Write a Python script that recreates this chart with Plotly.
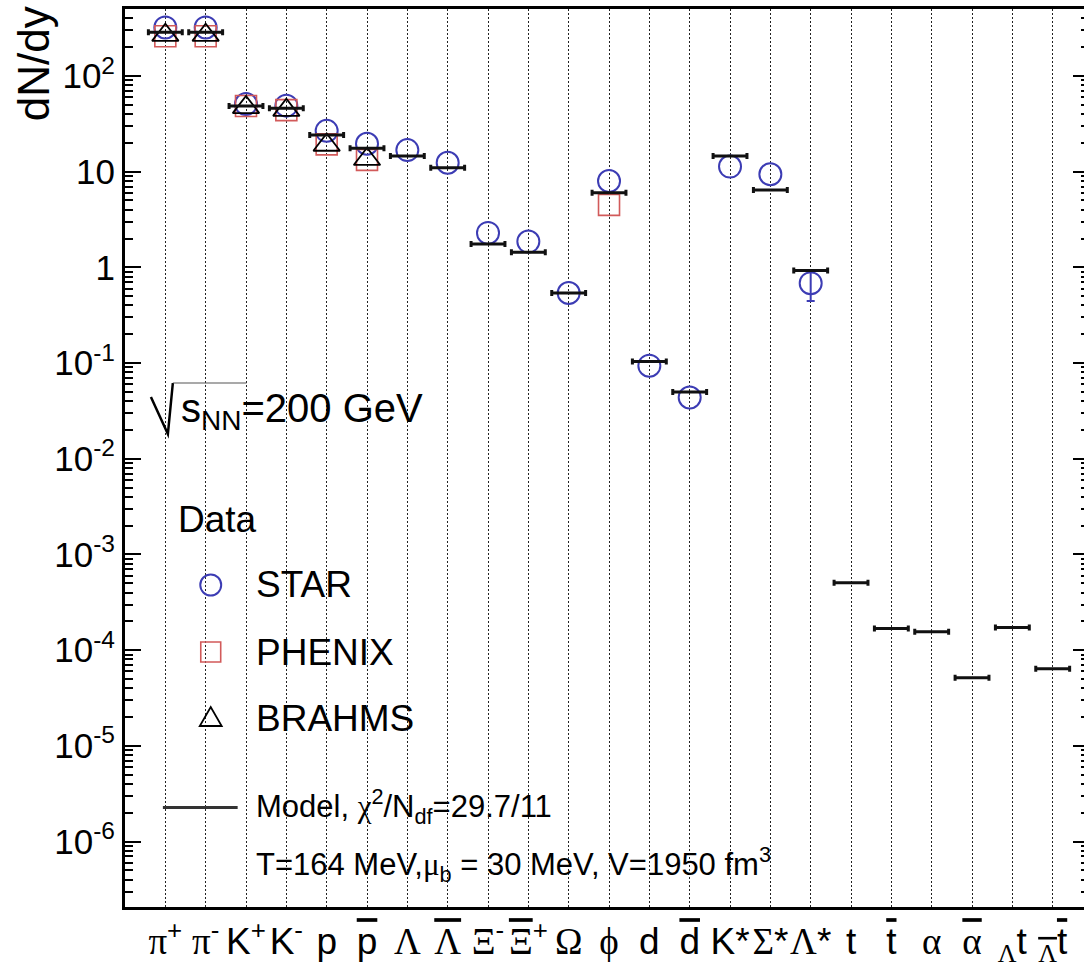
import plotly.graph_objects as go

# ---- particle species (x categories) ----
species = ["pi+", "pi-", "K+", "K-", "p", "pbar", "Lambda", "Lambdabar",
           "Xi-", "Xibar+", "Omega", "phi", "d", "dbar", "K*", "Sigma*",
           "Lambda*", "t", "tbar", "alpha", "alphabar", "hyp_t", "antihyp_t"]

SANS = "Liberation Sans"
SERIF = "Liberation Serif"


def gr(s, bar=False):
    deco = ";text-decoration:overline" if bar else ""
    return f'<span style="font-family:{SERIF}{deco}">{s}</span>'


def ov(s):
    return f'<span style="text-decoration:overline">{s}</span>'


tick_labels = [
    gr("π") + "<sup>+</sup>", gr("π") + "<sup>-</sup>",
    "K<sup>+</sup>", "K<sup>-</sup>",
    "p", ov("p"),
    gr("Λ"), gr("Λ", True),
    gr("Ξ") + "<sup>-</sup>", gr("Ξ", True) + "<sup>+</sup>",
    gr("Ω"), gr("ϕ"),
    "d", ov("d"),
    "K*", gr("Σ") + "*", gr("Λ") + "*",
    "t", ov("t"),
    gr("α"), gr("α", True),
    "<sub>" + gr("Λ") + "</sub>t", "<sub>" + gr("Λ", True) + "</sub>" + ov("t"),
]

# ---- thermal model yields (dN/dy) ----
model_yield = [286, 286, 48.7, 46.0, 24.2, 17.6, 14.6, 11.0,
               1.75, 1.44, 0.54, 6.04, 0.104, 0.050, 14.6, 6.45,
               0.93, 5.07e-4, 1.68e-4, 1.56e-4, 5.16e-5, 1.72e-4, 6.4e-5]

# ---- STAR ----
star_species = species[:17]
star_yield = [322, 322, 51, 49, 26.7, 19.6, 16.8, 12.4,
              2.29, 1.86, 0.54, 8.0, 0.094, 0.0437, 11.3, 9.4, 0.684]
# uncertainties large enough to show beyond the marker
star_err_species = ["Lambda*"]
star_err = [0.24]

# ---- PHENIX ----
phenix_species = ["pi+", "pi-", "K+", "K-", "p", "pbar", "phi"]
phenix_yield = [260, 260, 48.5, 44, 19.3, 13.3, 4.5]

# ---- BRAHMS ----
brahms_species = ["pi+", "pi-", "K+", "K-", "p", "pbar"]
brahms_yield = [267, 267, 47, 44, 19.0, 13.5]

STAR_BLUE = "#3c3cb4"
PHENIX_RED = "#d25a5a"

pos = {s: i for i, s in enumerate(species)}
star_lookup = dict(zip(star_species, star_yield))

W, H = 1094, 973
ML, MR, MT, MB = 125, 2, 9, 66
PW, PH = W - ML - MR, H - MT - MB


def px(x):
    return (x - ML) / PW


def py(y):
    return (H - MB - y) / PH


fig = go.Figure()

# STAR error bars (drawn under the markers)
fig.add_trace(go.Scatter(
    x=[pos[s] for s in star_err_species], y=[star_lookup[s] for s in star_err_species],
    mode="markers", marker=dict(size=2, color=STAR_BLUE, opacity=0), hoverinfo="skip",
    error_y=dict(type="data", array=star_err, color=STAR_BLUE, thickness=2, width=4),
))
fig.add_trace(go.Scatter(
    x=[pos[s] for s in star_species], y=star_yield, mode="markers", name="STAR",
    marker=dict(symbol="circle-open", size=22, color=STAR_BLUE, line=dict(width=2)),
))
fig.add_trace(go.Scatter(
    x=[pos[s] for s in phenix_species], y=phenix_yield, mode="markers", name="PHENIX",
    marker=dict(symbol="square-open", size=21, color=PHENIX_RED, line=dict(width=1.6)),
))
fig.add_trace(go.Scatter(
    x=[pos[s] for s in brahms_species], y=brahms_yield, mode="markers", name="BRAHMS",
    marker=dict(symbol="triangle-up-open", size=23, color="black", line=dict(width=1.8)),
))
fig.add_trace(go.Scatter(
    x=list(range(len(species))), y=model_yield, mode="markers", name="Model",
    marker=dict(size=2, color="black", opacity=0),
    error_x=dict(type="constant", value=0.42, color="#111111", thickness=3, width=3),
))

# y axis decades and minor ticks
decades = list(range(-6, 3))
major_vals = [10.0 ** d for d in decades]
major_text = ["1" if d == 0 else ("10" if d == 1 else "10<sup>%d</sup>" % d) for d in decades]
minor_vals = [m * 10.0 ** d for d in range(-7, 3) for m in range(2, 10)]

fig.update_layout(
    width=W, height=H,
    margin=dict(l=ML, r=MR, t=MT, b=MB),
    paper_bgcolor="white", plot_bgcolor="white",
    showlegend=False,
    font=dict(family=SANS, color="black"),
    xaxis=dict(
        range=[-1.0, 22.9], tickmode="array",
        tickvals=list(range(len(species))), ticktext=tick_labels,
        tickfont=dict(family=SANS, size=37, color="black"), tickangle=0,
        ticks="", showgrid=True, gridcolor="#222222", gridwidth=1.3,
        griddash="1.5px,2.5px", zeroline=False,
        showline=True, linewidth=2.5, linecolor="black", mirror=True,
    ),
    yaxis=dict(
        type="log", range=[-6.684, 2.70],
        tickmode="array", tickvals=major_vals, ticktext=major_text,
        tickfont=dict(family=SANS, size=35, color="black"),
        ticks="inside", ticklen=16, tickwidth=2, tickcolor="black",
        minor=dict(ticks="inside", ticklen=8, tickwidth=1.5, tickcolor="black",
                   tickmode="array", tickvals=minor_vals, showgrid=False),
        showgrid=False, zeroline=False,
        showline=True, linewidth=3, linecolor="black", mirror="ticks",
    ),
)

ann = []
# axis title placed at the top of the y axis
ann.append(dict(text="dN/dy", textangle=-90, xref="paper", yref="paper",
                x=px(33), y=py(64), xanchor="center", yanchor="middle",
                showarrow=False, font=dict(size=44, family=SANS)))
# collision energy
ann.append(dict(text="s<sub>NN</sub>=200 GeV", xref="paper", yref="paper",
                x=px(179), y=py(411), xanchor="left", yanchor="middle",
                showarrow=False, font=dict(size=40, family=SANS)))
# legend texts
ann.append(dict(text="Data", xref="paper", yref="paper", x=px(176), y=py(519),
                xanchor="left", yanchor="middle", showarrow=False, font=dict(size=37)))
for label, yc in [("STAR", 584), ("PHENIX", 652), ("BRAHMS", 718)]:
    ann.append(dict(text=label, xref="paper", yref="paper", x=px(254), y=py(yc),
                    xanchor="left", yanchor="middle", showarrow=False, font=dict(size=37)))
ann.append(dict(text="Model, " + f'<span style="font-family:{SERIF}">χ</span>' +
                "<sup>2</sup>/N<sub>df</sub>=29.7/11",
                xref="paper", yref="paper", x=px(254), y=py(806),
                xanchor="left", yanchor="middle", showarrow=False, font=dict(size=31)))
ann.append(dict(text="T=164 MeV," + f'<span style="font-family:{SERIF}">μ</span>' +
                "<sub>b</sub> = 30 MeV, V=1950 fm<sup>3</sup>",
                xref="paper", yref="paper", x=px(254), y=py(864),
                xanchor="left", yanchor="middle", showarrow=False, font=dict(size=31)))
fig.update_layout(annotations=ann)

shapes = []
# radical sign and its bar
shapes.append(dict(type="path", xref="paper", yref="paper",
                   path=f"M{px(151)},{py(397)} L{px(168)},{py(434)} L{px(173)},{py(383)}",
                   line=dict(color="black", width=2.5)))
shapes.append(dict(type="line", xref="paper", yref="paper",
                   x0=px(173), x1=px(247), y0=py(383), y1=py(383),
                   line=dict(color="#555555", width=1.2)))
# legend symbols
shapes.append(dict(type="circle", xref="paper", yref="paper",
                   x0=px(200.5), x1=px(221.5), y0=py(595.5), y1=py(574.5),
                   line=dict(color=STAR_BLUE, width=2)))
shapes.append(dict(type="rect", xref="paper", yref="paper",
                   x0=px(201), x1=px(221), y0=py(662), y1=py(642),
                   line=dict(color=PHENIX_RED, width=1.6)))
shapes.append(dict(type="path", xref="paper", yref="paper",
                   path=f"M{px(200)},{py(726)} L{px(222)},{py(726)} L{px(211)},{py(707)} Z",
                   line=dict(color="black", width=1.8)))
shapes.append(dict(type="line", xref="paper", yref="paper",
                   x0=px(163), x1=px(238), y0=py(807.5), y1=py(807.5),
                   line=dict(color="#333333", width=3)))
fig.update_layout(shapes=shapes)

fig.write_html("out.html",
               post_script="document.documentElement.style.overflow='hidden';"
                           "document.body.style.overflow='hidden';")
